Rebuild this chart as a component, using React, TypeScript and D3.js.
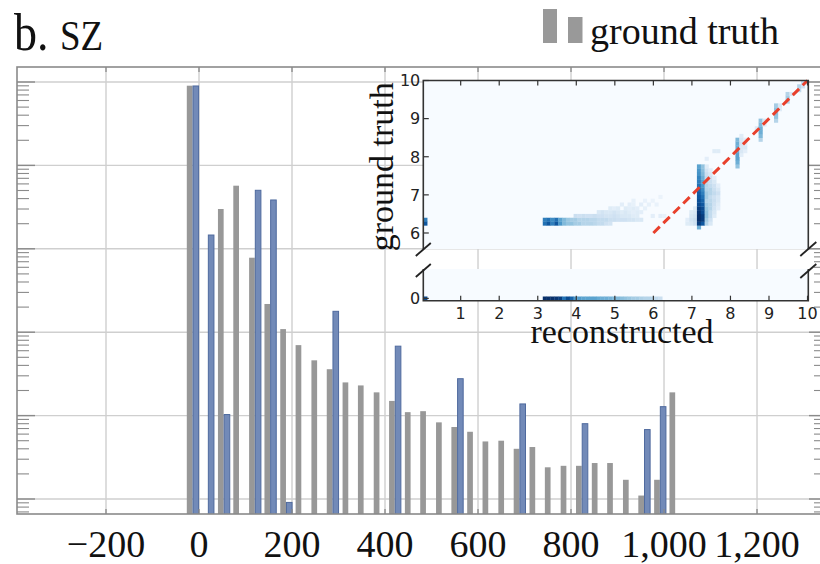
import React from "react";
import * as d3 from "d3";

// ---------- main histogram data ----------
const binEdges = [-14, 19, 53, 86, 120, 153, 187, 220, 254, 287, 321, 354, 388, 421, 455, 488, 522, 555, 589, 622, 656, 689, 723, 756, 790, 823, 857, 890, 924, 957, 991, 1024];
const groundTruth = [90300, 0, 3000, 5710, 782, 218, 109, 70, 46, 36, 25, 23, 19, 15, 11, 11.3, 8.3, 7.3, 6.4, 4.9, 5.0, 4.0, 4.2, 2.4, 2.5, 2.5, 2.7, 2.7, 1.7, 1.1, 1.7, 19];
const reconstructed = [89600, 1463, 10.3, 0, 5030, 3850, 0.91, 0, 0, 178, 0, 0, 0, 68, 0, 0, 0, 27.7, 0, 0, 0, 13.8, 0, 0, 0, 8.0, 0, 0, 0, 6.8, 12.8, 0];
const xTicks = [-200, 0, 200, 400, 600, 800, 1000, 1200];
const xTickLabels = ["\u2212200", "0", "200", "400", "600", "800", "1,000", "1,200"];
const yDecades = [1, 10, 100, 1000, 10000, 100000];
const yMinorMultipliers = [2, 3, 4, 5, 6, 7, 8, 9];
const yMinorExponents = [-1, 0, 1, 2, 3, 4, 5];

// ---------- inset heat map data ----------
const insetXTicks = [1, 2, 3, 4, 5, 6, 7, 8, 9, 10];
const insetYTicksUpper = [6, 7, 8, 9, 10];
const insetYTicksLower = [0];
const CELL = 0.1;
// [ground truth (row lower edge), reconstructed start, colour levels of consecutive cells]
const heatUpper: [number, number, number[]][] = [
  [6.3, 0.03, [0.7]],
  [6.2, 0.03, [0.85]],
  [6.2, 3.13, [0.75, 0.85, 0.7, 0.85, 0.6, 0.45, 0.4, 0.4, 0.35, 0.35, 0.3, 0.3, 0.3, 0.28, 0.25, 0.25, 0.2, 0.18]],
  [6.3, 3.13, [0.7, 0.75, 0.65, 0.75, 0.55, 0.45, 0.38, 0.35, 0.35, 0.3, 0.3, 0.3, 0.28, 0.28, 0.25, 0.25, 0.25, 0.22, 0.22, 0.2, 0.2, 0.2, 0.18, 0.18, 0.15, 0.15]],
  [6.4, 3.93, [0.22, 0.2, 0.22, 0.2, 0.2, 0.22, 0.2, 0.2, 0.18, 0.18, 0.2, 0.18, 0.15, 0.15, 0.15, 0.12, 0.12]],
  [6.4, 5.93, [0.1, 0, 0.1, 0.08]],
  [6.5, 4.53, [0.15, 0.18, 0.15, 0.15, 0.18, 0.15, 0.12, 0.15, 0.12, 0.1, 0.12, 0.1]],
  [6.6, 4.83, [0.12, 0.1, 0.12, 0, 0.12, 0.1, 0.12, 0.1, 0, 0.08]],
  [6.7, 5.13, [0.1, 0, 0.1, 0.08, 0, 0.1, 0, 0.08]],
  [6.7, 6.03, [0.07]],
  [6.8, 5.43, [0.08, 0, 0, 0.07]],
  [6.8, 5.93, [0.06]],
  [6.9, 6.13, [0.06]],
  // steep column near 7.2
  [6.1, 7.13, [0.5]],
  [6.2, 6.83, [0.12, 0.15, 0.2, 0.95, 0.85, 0.3, 0.15]],
  [6.3, 6.83, [0.1, 0.18, 0.22, 1.0, 0.95, 0.35, 0.2]],
  [6.4, 6.93, [0.15, 0.18, 1.0, 0.95, 0.4, 0.25, 0.12]],
  [6.5, 6.93, [0.12, 0.15, 0.98, 0.9, 0.4, 0.25, 0.15]],
  [6.6, 7.03, [0.12, 0.95, 0.9, 0.38, 0.3, 0.18, 0.1]],
  [6.7, 7.13, [0.9, 0.85, 0.35, 0.3, 0.2, 0.12]],
  [6.8, 7.13, [0.88, 0.8, 0.3, 0.28, 0.22, 0.15]],
  [6.9, 7.13, [0.85, 0.75, 0.35, 0.25, 0.2, 0.15]],
  [7.0, 7.13, [0.82, 0.7, 0.35, 0.3, 0.25, 0.2]],
  [7.1, 7.13, [0.78, 0.65, 0.3, 0.3, 0.22, 0.15]],
  [7.2, 7.13, [0.75, 0.6, 0.3, 0.25, 0.2, 0.1]],
  [7.3, 7.13, [0.7, 0.55, 0.28, 0.22, 0.15]],
  [7.4, 7.13, [0.68, 0.5, 0.25, 0.2, 0.1]],
  [7.5, 7.13, [0.62, 0.45, 0.22, 0.15]],
  [7.6, 7.13, [0.6, 0.42, 0.18, 0.1]],
  [7.7, 7.13, [0.55, 0.4, 0.12]],
  [7.9, 7.33, [0.1]],
  [8.1, 7.53, [0.12, 0.12]],
  // column near 8.2
  [7.7, 8.13, [0.4]],
  [7.8, 8.13, [0.5]],
  [7.9, 8.13, [0.55]],
  [8.0, 8.13, [0.55, 0.1]],
  [8.1, 8.13, [0.5, 0.15, 0.1]],
  [8.2, 8.13, [0.5, 0.15, 0.15]],
  [8.3, 8.13, [0.5, 0.18, 0.12]],
  [8.4, 8.13, [0.45, 0.15, 0.1]],
  [8.5, 8.23, [0.12]],
  // column near 8.8
  [8.4, 8.73, [0.3]],
  [8.5, 8.73, [0.45]],
  [8.6, 8.73, [0.5]],
  [8.7, 8.63, [0.12, 0.5]],
  [8.8, 8.73, [0.45, 0.12]],
  [8.9, 8.73, [0.4, 0.15]],
  // column near 9.2
  [8.9, 9.13, [0.3]],
  [9.0, 9.13, [0.4]],
  [9.1, 9.13, [0.42]],
  [9.2, 9.13, [0.4, 0.12]],
  [9.3, 9.13, [0.35, 0.15]],
  // column near 9.5
  [9.4, 9.43, [0.3]],
  [9.5, 9.43, [0.35]],
  [9.6, 9.43, [0.3, 0.15]],
  // top corner
  [9.7, 9.73, [0.25]],
  [9.8, 9.73, [0.3, 0.2]],
  [9.9, 9.83, [0.25, 0.15]],
];
const heatLower: [number, number, number[]][] = [
  [-0.05, 0.03, [0.9]],
  [-0.05, 3.13, [1.0, 1.0, 1.0, 0.98, 0.95, 0.75, 0.9, 0.8, 0.6, 0.58, 0.55, 0.55, 0.55, 0.55, 0.52, 0.5, 0.5, 0.48, 0.45, 0.45, 0.42, 0.4, 0.38, 0.35, 0.35, 0.32, 0.3, 0.3, 0.28, 0.25, 0.22]],
];
const identityLine: [number, number][] = [[6, 6], [10, 10]];

// ---------- layout ----------
const W = 820, H = 564;
const PL = 17, PT = 67, PR = 827, PB = 514;
const serif = "'Liberation Serif', 'Times New Roman', serif";
const sans = "'DejaVu Sans', sans-serif";

export default function App() {
  const x = d3.scaleLinear().domain([-391.4, 1350.5]).range([PL, PR]);
  const y = d3.scaleLog().domain([0.661, 151300]).range([PB, PT]);

  const minorVals: number[] = [];
  yMinorExponents.forEach((e) =>
    yMinorMultipliers.forEach((m) => {
      const v = m * Math.pow(10, e);
      if (v > 0.661 && v < 151300) minorVals.push(v);
    })
  );

  // inset scales
  const IL = 423.3, IR = 808.3, UT = 80.5, UB = 249, LT = 269, LB = 300.7;
  const ix = d3.scaleLinear().domain([0.03, 10.02]).range([IL, IR]);
  const iyU = d3.scaleLinear().domain([5.58, 10]).range([UB, UT]);
  const iyL = d3.scaleLinear().domain([-0.06, 0.77]).range([LB, LT]);

  const cells = (runs: [number, number, number[]][], iy: d3.ScaleLinear<number, number>, key: string) =>
    runs.flatMap(([gy, x0, levels], r) =>
      levels.map((lv, i) => {
        if (lv <= 0) return null;
        const xa = ix(x0 + i * CELL), xb = ix(x0 + (i + 1) * CELL);
        const ya = iy(gy + CELL), yb = iy(gy);
        return (
          <rect key={`${key}-${r}-${i}`} x={xa} y={ya} width={xb - xa + 0.3} height={yb - ya + 0.3}
            fill={d3.interpolateBlues(lv)} />
        );
      })
    );

  const bgBlue = d3.interpolateBlues(0);
  const gridColor = "#cfcfcf";
  const frameColor = "#8a8a8a";

  return (
    <svg width={W} height={H} viewBox={`0 0 ${W} ${H}`}
      style={{ position: "absolute", left: 0, top: 0, background: "#fff" }}>
      <defs>
        <clipPath id="mainClip"><rect x={PL} y={PT} width={PR - PL} height={PB - PT} /></clipPath>
        <clipPath id="upClip"><rect x={IL} y={UT} width={IR - IL} height={UB - UT} /></clipPath>
        <clipPath id="loClip"><rect x={IL} y={LT} width={IR - IL} height={LB - LT} /></clipPath>
      </defs>

      {/* title */}
      <text transform="translate(14,50) scale(1,1.14)" fontFamily={serif} fontSize={46} fill="#111">
        b. <tspan fontSize={37}>SZ</tspan>
      </text>

      {/* legend */}
      <rect x={543} y={9} width={14} height={34} fill="#999" />
      <rect x={568} y={17} width={14.5} height={26} fill="#999" />
      <text x={590} y={44} fontFamily={serif} fontSize={38} fill="#111">ground truth</text>

      {/* grid */}
      <g clipPath="url(#mainClip)">
        {xTicks.map((t) => (
          <line key={`gx${t}`} x1={x(t)} x2={x(t)} y1={PT} y2={PB} stroke={gridColor} strokeWidth={1.4} />
        ))}
        {yDecades.map((d) => (
          <line key={`gy${d}`} x1={PL} x2={PR} y1={y(d)} y2={y(d)} stroke={gridColor} strokeWidth={1.4} />
        ))}
      </g>

      {/* bars */}
      <g clipPath="url(#mainClip)">
        {binEdges.map((e, i) =>
          groundTruth[i] > 0 ? (
            <rect key={`g${i}`} x={x(e) - 5.7} y={y(groundTruth[i])} width={5.7}
              height={PB - y(groundTruth[i])} fill="#989898" />
          ) : null
        )}
        {binEdges.map((e, i) =>
          reconstructed[i] > 0 ? (
            <rect key={`b${i}`} x={x(e) + 0.5} y={y(reconstructed[i])} width={5.6}
              height={PB - y(reconstructed[i]) + 1} fill="#728aB8" stroke="#4f6a9e" strokeWidth={1} />
          ) : null
        )}
      </g>

      {/* ticks main */}
      {yDecades.map((d) => (
        <g key={`ty${d}`}>
          <line x1={PL} x2={PL + 18} y1={y(d)} y2={y(d)} stroke={frameColor} strokeWidth={1.4} />
          <line x1={PR - 18} x2={PR} y1={y(d)} y2={y(d)} stroke={frameColor} strokeWidth={1.4} />
        </g>
      ))}
      {minorVals.map((v, i) => (
        <g key={`tm${i}`}>
          <line x1={PL} x2={PL + 12} y1={y(v)} y2={y(v)} stroke={frameColor} strokeWidth={1.1} />
          <line x1={PR - 13} x2={PR} y1={y(v)} y2={y(v)} stroke={frameColor} strokeWidth={1.1} />
        </g>
      ))}
      {xTicks.map((t) => (
        <g key={`tx${t}`}>
          <line x1={x(t)} x2={x(t)} y1={PT} y2={PT + 5} stroke={frameColor} strokeWidth={1.3} />
          <line x1={x(t)} x2={x(t)} y1={PB - 5} y2={PB} stroke={frameColor} strokeWidth={1.3} />
        </g>
      ))}
      <rect x={PL} y={PT} width={PR - PL} height={PB - PT} fill="none" stroke={frameColor} strokeWidth={1.6} />

      {/* x tick labels */}
      {xTicks.map((t, i) => (
        <text key={`xl${t}`} x={x(t)} y={557} textAnchor="middle" fontFamily={serif} fontSize={38} fill="#111">
          {xTickLabels[i]}
        </text>
      ))}

      {/* ---------- inset ---------- */}
      <rect x={IL} y={UT} width={IR - IL} height={UB - UT} fill={bgBlue} />
      <rect x={IL} y={LT} width={IR - IL} height={LB - LT} fill={bgBlue} />
      <g clipPath="url(#upClip)">{cells(heatUpper, iyU, "u")}</g>
      <g clipPath="url(#loClip)">{cells(heatLower, iyL, "l")}</g>

      <line x1={ix(identityLine[0][0])} y1={iyU(identityLine[0][1])} x2={ix(identityLine[1][0])} y2={iyU(identityLine[1][1])}
        stroke="#e8402c" strokeWidth={3} strokeDasharray="9 5" />

      {/* inset frame */}
      <path d={`M${IL},${UB} V${UT} H${IR} V${UB}`} fill="none" stroke="#333" strokeWidth={1.6} />
      <path d={`M${IL},${LT} V${LB} H${IR} V${LT}`} fill="none" stroke="#333" strokeWidth={1.6} />
      {/* break marks */}
      <g stroke="#222" strokeWidth={1.8}>
        <line x1={IL - 7.5} y1={UB + 7} x2={IL + 7.5} y2={UB - 6} />
        <line x1={IL - 7.5} y1={LT + 8} x2={IL + 7.5} y2={LT - 5} />
        <line x1={IR - 8} y1={UB + 7} x2={IR + 8} y2={UB - 7} />
        <line x1={IR - 8} y1={LT + 9} x2={IR + 8} y2={LT - 5} />
      </g>

      {/* inset ticks */}
      {insetXTicks.map((t) => (
        <g key={`ixt${t}`} stroke="#333" strokeWidth={1.2}>
          <line x1={ix(t)} x2={ix(t)} y1={UT} y2={UT + 5} />
          <line x1={ix(t)} x2={ix(t)} y1={LB - 5} y2={LB} />
        </g>
      ))}
      {insetYTicksUpper.map((t) => (
        <line key={`iyt${t}`} x1={IL} x2={IL + 5.5} y1={iyU(t)} y2={iyU(t)} stroke="#333" strokeWidth={1.2} />
      ))}
      {insetYTicksLower.map((t) => (
        <line key={`iyl${t}`} x1={IL} x2={IL + 5.5} y1={iyL(t)} y2={iyL(t)} stroke="#333" strokeWidth={1.2} />
      ))}

      {/* inset tick labels */}
      {insetXTicks.map((t) => (
        <text key={`ixl${t}`} x={ix(t)} y={318.5} textAnchor="middle" fontFamily={sans} fontSize={16} fill="#222">{t}</text>
      ))}
      {insetYTicksUpper.map((t) => (
        <text key={`iyu${t}`} x={IL - 3} y={iyU(t)} dy="0.36em" textAnchor="end" fontFamily={sans} fontSize={16} fill="#222">{t}</text>
      ))}
      {insetYTicksLower.map((t) => (
        <text key={`iyll${t}`} x={IL - 3} y={iyL(t)} dy="0.36em" textAnchor="end" fontFamily={sans} fontSize={16} fill="#222">{t}</text>
      ))}

      {/* inset axis titles */}
      <text transform={`translate(393,${(UT + UB) / 2 + 2}) rotate(-90)`} textAnchor="middle" fontFamily={serif} fontSize={34} fill="#111">
        ground truth
      </text>
      <text x={622} y={343} textAnchor="middle" fontFamily={serif} fontSize={34} fill="#111">reconstructed</text>
    </svg>
  );
}
